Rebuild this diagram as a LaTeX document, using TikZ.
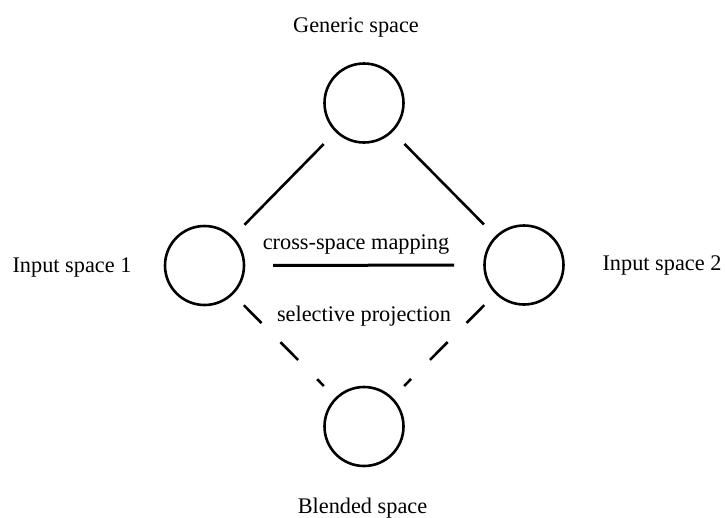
\documentclass[tikz,border=0pt]{standalone}
\usepackage{fontspec}
\setmainfont{Liberation Serif}
\begin{document}
\begin{tikzpicture}[x=1pt,y=-1pt,
  space/.style={circle, draw, line width=2.6pt, minimum size=79pt, inner sep=0pt},
  lab/.style={font=\fontsize{22.3}{26}\selectfont, inner sep=0pt, anchor=base},
  link/.style={line width=2.6pt},
  proj/.style={line width=2.6pt, dash pattern=on 25pt off 27pt}]
\useasboundingbox (0,0) rectangle (725,517);
\node[space] (gen) at (364,103) {};
\node[space] (in1) at (204.5,265.5) {};
\node[space] (in2) at (524,265) {};
\node[space] (bl) at (364,426.5) {};
\node[lab] (tgen) at (356,32.3) {Generic space};
\node[lab] (tbl) at (362.5,513.3) {Blended space};
\node[lab] (tin1) at (72,272.5) {Input space 1};
\node[lab] (tin2) at (662,270.5) {Input space 2};
\node[lab] (tcross) at (356,249) {cross-space mapping};
\node[lab] (tsel) at (364,321) {selective projection};
\draw[link, shorten <=57.5pt, shorten >=57pt] (gen.center) -- (in1.center);
\draw[link, shorten <=57.5pt, shorten >=57pt] (gen.center) -- (in2.center);
\draw[line width=3pt, shorten <=68.5pt, shorten >=70pt] (in1.center) -- (in2.center);
\draw[proj, shorten <=56pt, shorten >=57pt] (in1.center) -- (bl.center);
\draw[proj, shorten <=56.5pt, shorten >=57pt] (in2.center) -- (bl.center);
\end{tikzpicture}
\end{document}
